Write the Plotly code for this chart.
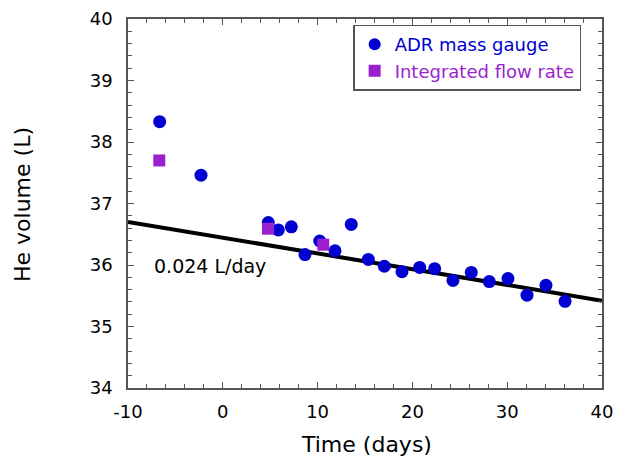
import plotly.graph_objects as go

# Data
adr_time = [-6.66, -2.30, 4.80, 5.86, 7.23, 8.67, 10.22, 11.84, 13.55, 15.35, 17.04,
            18.9, 20.77, 22.35, 24.28, 26.21, 28.11, 30.08, 32.09, 34.09, 36.1]
adr_volume = [38.33, 37.46, 36.69, 36.57, 36.62, 36.17, 36.39, 36.23, 36.66, 36.09, 35.98,
              35.89, 35.96, 35.94, 35.75, 35.88, 35.73, 35.78, 35.51, 35.67, 35.41]
flow_time = [-6.70, 4.77, 10.6]
flow_volume = [37.70, 36.59, 36.33]
fit_time = [-10, 40]
fit_volume = [36.70, 35.42]
fit_label = "0.024 L/day"
x_ticks = [-10, 0, 10, 20, 30, 40]
x_ticklabels = ["-10", "0", "10", "20", "30", "40"]
y_ticks = [34, 35, 36, 37, 38, 39, 40]
y_ticklabels = ["34", "35", "36", "37", "38", "39", "40"]

BLUE = "#0000d0"
PURPLE = "#9b1fcf"
FONT = "DejaVu Sans"
AX = "#555555"

fig = go.Figure()
fig.add_trace(go.Scatter(x=fit_time, y=fit_volume, mode="lines",
                         line=dict(color="black", width=4), showlegend=False))
fig.add_trace(go.Scatter(x=adr_time, y=adr_volume, mode="markers",
                         marker=dict(color=BLUE, size=13, symbol="circle"),
                         name=f"<span style='color:{BLUE}'>ADR mass gauge</span>"))
fig.add_trace(go.Scatter(x=flow_time, y=flow_volume, mode="markers",
                         marker=dict(color=PURPLE, size=12, symbol="square"),
                         name=f"<span style='color:{PURPLE}'>Integrated flow rate</span>"))

fig.add_annotation(x=-1.3, y=35.98, text=fit_label, showarrow=False,
                   font=dict(family=FONT, size=19, color="black"))
fig.add_annotation(xref="paper", yref="paper", x=0.504, y=-0.152, text="Time (days)",
                   showarrow=False, xanchor="center", yanchor="middle",
                   font=dict(family=FONT, size=22, color="black"))
fig.add_annotation(xref="paper", yref="paper", x=-0.2215, y=0.496, text="He volume (L)",
                   showarrow=False, xanchor="center", yanchor="middle", textangle=-90,
                   font=dict(family=FONT, size=22, color="black"))

axis_common = dict(showgrid=False, zeroline=False, showline=True, linecolor=AX,
                   linewidth=1.5, mirror="allticks", ticks="inside", ticklen=6,
                   tickwidth=1, tickcolor=AX, automargin=False,
                   tickfont=dict(family=FONT, size=18, color="black"))

fig.update_xaxes(range=[-10, 40], tickvals=x_ticks, ticktext=x_ticklabels,
                 minor=dict(ticks="inside", ticklen=4, dtick=2, tickcolor=AX, tickwidth=1),
                 ticklabelstandoff=7, ticklabeloverflow="allow", **axis_common)
fig.update_yaxes(range=[34, 40], tickvals=y_ticks, ticktext=y_ticklabels,
                 minor=dict(ticks="inside", ticklen=4, dtick=0.2, tickcolor=AX, tickwidth=1),
                 ticklabelstandoff=10, **axis_common)

fig.update_layout(
    width=617, height=460,
    margin=dict(l=128, r=15, t=19, b=72),
    paper_bgcolor="white", plot_bgcolor="white",
    font=dict(family=FONT, color="black"),
    legend=dict(x=0.475, y=0.985, xanchor="left", yanchor="top",
                bgcolor="white", bordercolor=AX, borderwidth=1.5,
                font=dict(family=FONT, size=18), tracegroupgap=0,
                itemsizing="constant"),
)

fig.write_html("out.html", config={"displayModeBar": False},
               post_script="document.body.style.margin='0';")
